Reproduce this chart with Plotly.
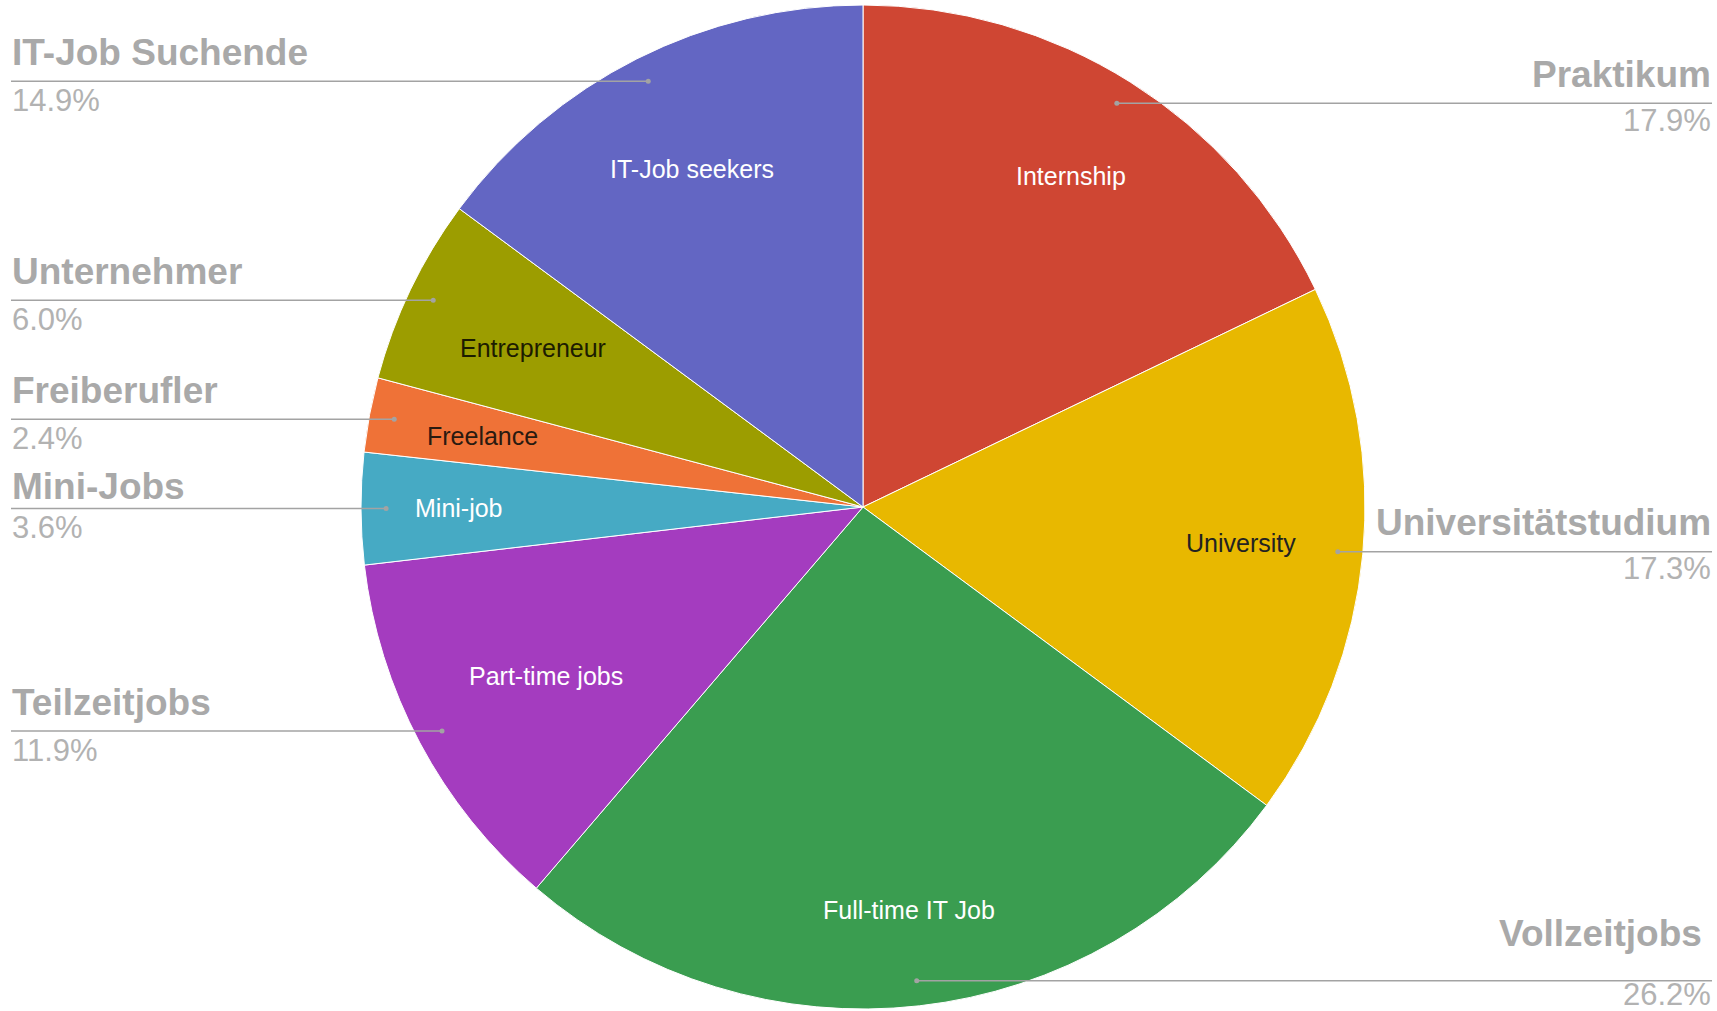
import math
import plotly.graph_objects as go

# ---------------- data ----------------
categories_en = ["Internship", "University", "Full-time IT Job", "Part-time jobs",
                 "Mini-job", "Freelance", "Entrepreneur", "IT-Job seekers"]
categories_de = ["Praktikum", "Universitätstudium", "Vollzeitjobs", "Teilzeitjobs",
                 "Mini-Jobs", "Freiberufler", "Unternehmer", "IT-Job Suchende"]
shares = [17.9, 17.3, 26.2, 11.9, 3.6, 2.4, 6.0, 14.9]

# ---------------- style ----------------
colors = ["#CF4633", "#E8B800", "#3A9D50", "#A43CBF",
          "#46AAC4", "#EF7237", "#9C9D00", "#6366C3"]
inside_text_colors = ["white", "#222222", "white", "white",
                      "white", "#2a1a10", "#1c1c00", "white"]
# radial position of each inside label (fraction of radius)
inside_label_r = [0.779, 0.757, 0.807, 0.715, 0.805, 0.771, 0.729, 0.755]

W, H = 1717, 1011
CX, CY, R = 863, 507, 502          # pie centre / radius in px
LEFT_X, RIGHT_X = 11, 1712         # label column edges
DOT_R = 0.95                       # leader-line anchor (fraction of radius)
NAME_DY, PCT_DY = -29, 19          # label offsets from leader line
NAME_NUDGE = {"Mini-Jobs": 7, "Vollzeitjobs": -18}
NAME_XNUDGE = {"Vollzeitjobs": -9}
PCT_NUDGE = {"Vollzeitjobs": -5, "Praktikum": -2, "Universitätstudium": -2}
FONT = "Liberation Sans, Arial, sans-serif"
GREY_NAME = "#a9a9a9"
GREY_PCT = "#b2b2b2"
LINE_GREY = "#a3a3a3"

fig = go.Figure()
fig.add_trace(go.Pie(
    labels=categories_en, values=shares, sort=False, direction="clockwise",
    rotation=0, textinfo="none", hoverinfo="label+percent",
    marker=dict(colors=colors, line=dict(color="white", width=1)),
    domain=dict(x=[(CX - R) / W, (CX + R) / W],
                y=[(H - (CY + R)) / H, (H - (CY - R)) / H]),
    showlegend=False,
))

total = sum(shares)
cum = 0.0
annotations = []
shapes = []
for en, de, v, tc, lr in zip(categories_en, categories_de, shares,
                             inside_text_colors, inside_label_r):
    mid = (cum + v / 2) / total * 2 * math.pi
    cum += v
    s, c = math.sin(mid), math.cos(mid)
    # inside label
    annotations.append(dict(x=CX + lr * R * s, y=CY - lr * R * c, xref="x", yref="y",
                            text=en, showarrow=False,
                            font=dict(family=FONT, size=25, color=tc)))
    # leader line + dot
    dx, dy = CX + DOT_R * R * s, CY - DOT_R * R * c
    left = s < 0
    x_end = LEFT_X if left else RIGHT_X
    shapes.append(dict(type="line", xref="x", yref="y", x0=dx, y0=dy, x1=x_end, y1=dy,
                       line=dict(color=LINE_GREY, width=1.5), layer="above"))
    shapes.append(dict(type="circle", xref="x", yref="y", x0=dx - 2.5, x1=dx + 2.5,
                       y0=dy - 2.5, y1=dy + 2.5, fillcolor=LINE_GREY,
                       line=dict(width=0), layer="above"))
    anchor = "left" if left else "right"
    annotations.append(dict(x=x_end + NAME_XNUDGE.get(de, 0),
                            y=dy + NAME_DY + NAME_NUDGE.get(de, 0), xref="x", yref="y",
                            text=f"<b>{de}</b>", showarrow=False, xanchor=anchor,
                            yanchor="middle", borderpad=0,
                            font=dict(family=FONT, size=37, color=GREY_NAME)))
    annotations.append(dict(x=x_end, y=dy + PCT_DY + PCT_NUDGE.get(de, 0), xref="x", yref="y",
                            text=f"{v:.1f}%", showarrow=False, xanchor=anchor,
                            yanchor="middle", borderpad=0,
                            font=dict(family=FONT, size=31, color=GREY_PCT)))

fig.update_layout(
    width=W, height=H, margin=dict(l=0, r=0, t=0, b=0),
    paper_bgcolor="white", plot_bgcolor="white",
    xaxis=dict(range=[0, W], visible=False, fixedrange=True),
    yaxis=dict(range=[H, 0], visible=False, fixedrange=True),
    annotations=annotations, shapes=shapes,
)
fig.write_html(
    "out.html",
    config={"displayModeBar": False},
    post_script="document.body.style.margin='0';document.body.style.overflow='hidden';",
)
